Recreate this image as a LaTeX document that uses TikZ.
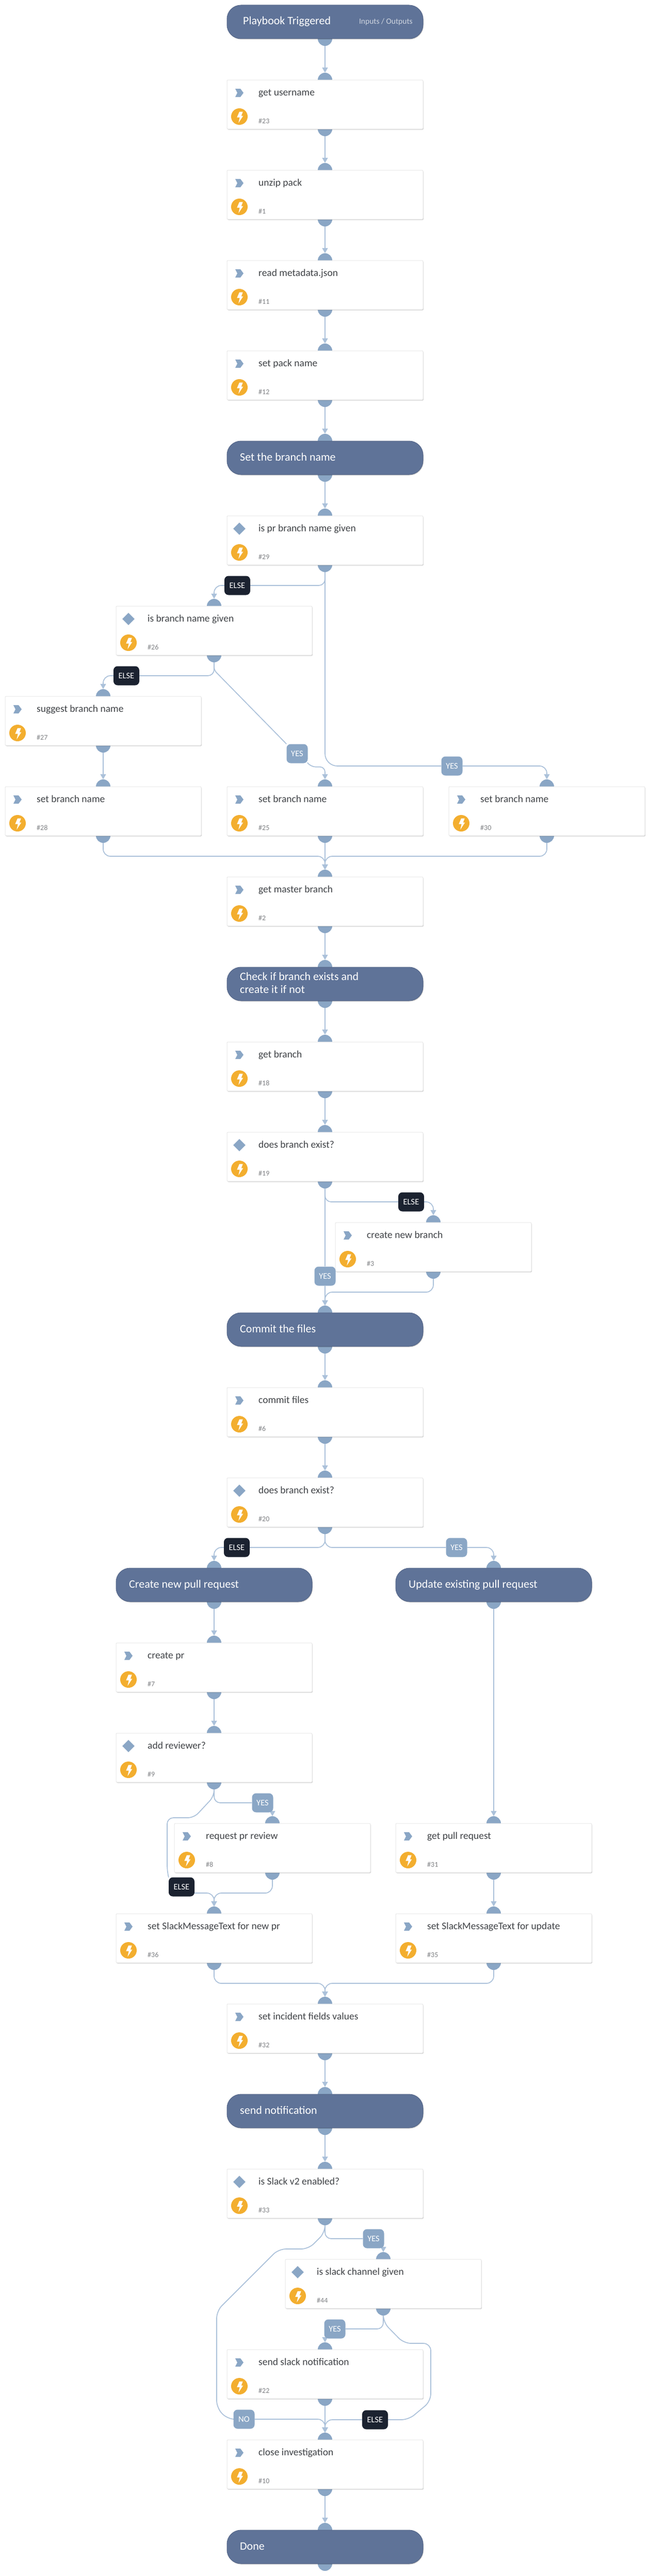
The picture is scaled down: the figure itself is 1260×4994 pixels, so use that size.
\documentclass[tikz,border=0pt]{standalone}
\usepackage{fontspec}
\setmainfont{Carlito}
\usetikzlibrary{arrows.meta,calc,shadows,shapes.geometric}

\definecolor{portblue}{HTML}{8AA6C5}
\definecolor{linkblue}{HTML}{ABC1DA}
\definecolor{headblue}{HTML}{5F7398}
\definecolor{elsedark}{HTML}{1B2230}
\definecolor{boltorange}{HTML}{F3AE2F}
\definecolor{tasktext}{HTML}{404347}
\definecolor{idtext}{HTML}{808285}

\pgfdeclarelayer{links}
\pgfsetlayers{links,main}

\tikzset{
    port/.style={circle,fill=portblue,minimum size=28pt,inner sep=0pt},
    taskbox/.style={rectangle,rounded corners=2pt,fill=white,draw=black!9,line width=1pt,
        minimum width=380pt,minimum height=95pt,inner sep=0pt,outer sep=0pt,
        drop shadow={shadow xshift=1pt,shadow yshift=-1.5pt,opacity=.18,fill=black}},
    headbox/.style={rectangle,rounded corners=27pt,fill=headblue,draw=headblue!90!black,line width=1pt,
        minimum width=380pt,minimum height=65pt,inner sep=0pt,outer sep=0pt,
        drop shadow={shadow xshift=1pt,shadow yshift=-1.5pt,opacity=.22,fill=black}},
    tasklabel/.style={anchor=base west,inner sep=0pt,text=tasktext,font=\fontsize{19.5}{22}\selectfont},
    idlabel/.style={anchor=base west,inner sep=0pt,text=idtext,font=\fontsize{14}{16}\selectfont},
    headlabel/.style={anchor=base west,inner sep=0pt,text=white,align=left,font=\fontsize{22}{25}\selectfont},
    boltdisc/.style={circle,fill=boltorange,minimum size=32pt,inner sep=0pt},
    conddiamond/.style={diamond,fill=portblue,minimum width=24pt,minimum height=24pt,inner sep=0pt},
    elsetag/.style={rectangle,rounded corners=8pt,fill=elsedark,text=white,minimum width=50pt,minimum height=37pt,
        inner sep=0pt,font=\fontsize{16.5}{18}\selectfont},
    yestag/.style={rectangle,rounded corners=8pt,fill=portblue,text=white,minimum width=41pt,minimum height=37pt,
        inner sep=0pt,font=\fontsize{16.5}{18}\selectfont},
    link/.style={draw=linkblue,line width=1.7pt},
    flow/.style={link,-{Triangle[length=10pt,width=11pt,fill=linkblue]}}
}

% isi kotak tugas: nama, cx, atas, teks, nomor
\newcommand{\taskbody}[5]{
    \node[port] (#1-in) at (#2,#3) {};
    \node[port] (#1-out) at (#2,#3+95) {};
    \node[taskbox] (#1) at ($(#1-in)!.5!(#1-out)$) {};
    \node[tasklabel] (#1-text) at ($(#1-in)+(-129,30)$) {#4};
    \node[idlabel] (#1-id) at ($(#1-in)+(-129,84)$) {\##5};
    \node[boltdisc] (#1-bolt) at ($(#1-in)+(-166,71)$) {};
    \fill[white,shift={(#1-bolt.center)}] (0,-9.3) -- (6.7,-9.3) -- (3.7,-1.3) -- (7.3,-1.3)
        -- (-1.7,12.3) -- (0.7,1.7) -- (-4.7,1.7) -- cycle;
}
\newcommand{\tasknode}[5]{
    \taskbody{#1}{#2}{#3}{#4}{#5}
    \coordinate (#1-mark) at ($(#1-in)+(-166,25)$);
    \fill[portblue,shift={(#1-mark)}] (-8,-8) -- (2,-8) -- (8,0) -- (2,8) -- (-8,8) -- (-4,0) -- cycle;
}
\newcommand{\condnode}[5]{
    \taskbody{#1}{#2}{#3}{#4}{#5}
    \node[conddiamond] (#1-mark) at ($(#1-in)+(-166,25)$) {};
}
% kotak judul: [baris dasar], nama, cx, atas, teks
\newcommand{\headnode}[5][38]{
    \node[port] (#2-in) at (#3,#4) {};
    \node[port] (#2-out) at (#3,#4+65) {};
    \node[headbox] (#2) at ($(#2-in)!.5!(#2-out)$) {};
    \node[headlabel] (#2-text) at ($(#2-in)+(-165,#1)$) {#5};
}

\begin{document}
\begin{tikzpicture}[x=1pt,y=-1pt]
    \useasboundingbox (0,0) rectangle (1260,4994);

    % pemicu
    \node[port] (trigger-out) at (630,75) {};
    \node[headbox] (trigger) at (630,42.5) {};
    \node[headlabel] (trigger-text) at (471,48) {Playbook Triggered};
    \node[anchor=base east,inner sep=0pt,text=white!70!headblue,font=\fontsize{15.5}{18}\selectfont] (trigger-io) at (800,47) {Inputs / Outputs};

    % kotak-kotak
    \tasknode{getuser}{630}{155}{get username}{23}
    \tasknode{unzip}{630}{330}{unzip pack}{1}
    \tasknode{readmeta}{630}{505}{read metadata.json}{11}
    \tasknode{setpack}{630}{680}{set pack name}{12}
    \headnode{branchhead}{630}{855}{Set the branch name}
    \condnode{ispr}{630}{1000}{is pr branch name given}{29}
    \condnode{isbranch}{415}{1175}{is branch name given}{26}
    \tasknode{suggest}{200}{1350}{suggest branch name}{27}
    \tasknode{setleft}{200}{1525}{set branch name}{28}
    \tasknode{setmid}{630}{1525}{set branch name}{25}
    \tasknode{setright}{1060}{1525}{set branch name}{30}
    \tasknode{getmaster}{630}{1700}{get master branch}{2}
    \headnode[50]{checkhead}{630}{1875}{Check if branch exists and\\create it if not}
    \tasknode{getbranch}{630}{2020}{get branch}{18}
    \condnode{existone}{630}{2195}{does branch exist?}{19}
    \tasknode{newbranch}{840}{2370}{create new branch}{3}
    \headnode{commithead}{630}{2545}{Commit the files}
    \tasknode{commit}{630}{2690}{commit files}{6}
    \condnode{existtwo}{630}{2865}{does branch exist?}{20}
    \headnode{newhead}{415}{3040}{Create new pull request}
    \headnode{updhead}{957}{3040}{Update existing pull request}
    \tasknode{createpr}{415}{3185}{create pr}{7}
    \condnode{addrev}{415}{3360}{add reviewer?}{9}
    \tasknode{request}{528}{3535}{request pr review}{8}
    \tasknode{getpull}{957}{3535}{get pull request}{31}
    \tasknode{msgnew}{415}{3710}{set SlackMessageText for new pr}{36}
    \tasknode{msgupdate}{957}{3710}{set SlackMessageText for update}{35}
    \tasknode{setfields}{630}{3885}{set incident fields values}{32}
    \headnode{notifyhead}{630}{4060}{send notification}
    \condnode{isslack}{630}{4205}{is Slack v2 enabled?}{33}
    \condnode{ischannel}{743}{4380}{is slack channel given}{44}
    \tasknode{sendslack}{630}{4555}{send slack notification}{22}
    \tasknode{closeinv}{630}{4730}{close investigation}{10}
    \headnode{done}{630}{4905}{Done}

    % label cabang
    \node[elsetag] (elseispr) at (460,1135) {ELSE};
    \node[yestag] (yesispr) at (876,1485) {YES};
    \node[elsetag] (elsebranch) at (245,1310) {ELSE};
    \node[yestag] (yesbranch) at (576,1461) {YES};
    \node[elsetag] (elseexist) at (797,2330) {ELSE};
    \node[yestag] (yesexist) at (630,2474) {YES};
    \node[elsetag] (elsetwo) at (459,3000) {ELSE};
    \node[yestag] (yestwo) at (885,3000) {YES};
    \node[yestag] (yesrev) at (509,3495) {YES};
    \node[elsetag] (elserev) at (352,3658) {ELSE};
    \node[yestag] (yesslack) at (724,4340) {YES};
    \node[yestag] (noslack) at (473,4690) {NO};
    \node[yestag] (yeschan) at (649,4515) {YES};
    \node[elsetag] (elsechan) at (727,4691) {ELSE};

    % titik temu
    \coordinate (mergeset) at (630,1660);
    \coordinate (mergeexist) at (630,2505);
    \coordinate (mergerev) at (415,3670);
    \coordinate (mergemsg) at (630,3845);

    \begin{pgfonlayer}{links}
    \fill[white] (0,0) rectangle (1260,4994);

    % garis lurus
    \draw[flow] (trigger-out.south) -- (getuser-in.north);
    \draw[flow] (getuser-out.south) -- (unzip-in.north);
    \draw[flow] (unzip-out.south) -- (readmeta-in.north);
    \draw[flow] (readmeta-out.south) -- (setpack-in.north);
    \draw[flow] (setpack-out.south) -- (branchhead-in.north);
    \draw[flow] (branchhead-out.south) -- (ispr-in.north);
    \draw[flow] (suggest-out.south) -- (setleft-in.north);
    \draw[flow] (getmaster-out.south) -- (checkhead-in.north);
    \draw[flow] (checkhead-out.south) -- (getbranch-in.north);
    \draw[flow] (getbranch-out.south) -- (existone-in.north);
    \draw[flow] (commithead-out.south) -- (commit-in.north);
    \draw[flow] (commit-out.south) -- (existtwo-in.north);
    \draw[flow] (newhead-out.south) -- (createpr-in.north);
    \draw[flow] (createpr-out.south) -- (addrev-in.north);
    \draw[flow] (updhead-out.south) -- (getpull-in.north);
    \draw[flow] (getpull-out.south) -- (msgupdate-in.north);
    \draw[flow] (setfields-out.south) -- (notifyhead-in.north);
    \draw[flow] (notifyhead-out.south) -- (isslack-in.north);
    \draw[flow] (sendslack-out.south) -- (closeinv-in.north);
    \draw[flow] (closeinv-out.south) -- (done-in.north);

    % cabang pr
    \draw[link,rounded corners=12pt] (ispr-out.south) |- (elseispr.east);
    \draw[flow,rounded corners=14pt] (elseispr.west) -| (isbranch-in.north);
    \draw[link,rounded corners=24pt] (ispr-out.south) |- (yesispr.west);
    \draw[flow,rounded corners=14pt] (yesispr.east) -| (setright-in.north);
    \draw[link,rounded corners=12pt] (isbranch-out.south) |- (elsebranch.east);
    \draw[flow,rounded corners=14pt] (elsebranch.west) -| (suggest-in.north);
    \draw[link,rounded corners=6pt] (isbranch-out.south) -- ++(0,15) -- (yesbranch.north west);
    \draw[flow,rounded corners=10pt] (yesbranch.south east) -- ++(5,7) -| (setmid-in.north);
    \draw[flow,rounded corners=14pt] (setleft-out.south) |- (mergeset) -- (getmaster-in.north);
    \draw[flow] (setmid-out.south) -- (getmaster-in.north);
    \draw[flow,rounded corners=14pt] (setright-out.south) |- (mergeset) -- (getmaster-in.north);

    % cabang ada tidaknya branch
    \draw[link,rounded corners=12pt] (existone-out.south) |- (elseexist.west);
    \draw[flow,rounded corners=14pt] (elseexist.east) -| (newbranch-in.north);
    \draw[link] (existone-out.south) -- (yesexist.north);
    \draw[flow] (yesexist.south) -- (commithead-in.north);
    \draw[flow,rounded corners=14pt] (newbranch-out.south) |- (mergeexist) -- (commithead-in.north);

    % cabang pull request
    \draw[link,rounded corners=14pt] (existtwo-out.south) |- (elsetwo.east);
    \draw[flow,rounded corners=14pt] (elsetwo.west) -| (newhead-in.north);
    \draw[link,rounded corners=14pt] (existtwo-out.south) |- (yestwo.west);
    \draw[flow,rounded corners=14pt] (yestwo.east) -| (updhead-in.north);
    \draw[link,rounded corners=12pt] (addrev-out.south) |- (yesrev.west);
    \draw[flow] (yesrev.south -| request-in.north) -- (request-in.north);
    \draw[link,rounded corners=12pt] (addrev-out.south) -- ++(0,13) -- (376,3524) -- (324,3524) -- (324,3628) -- (elserev.north west);
    \draw[flow,rounded corners=14pt] (elserev.east |- mergerev) -- (mergerev) -- (msgnew-in.north);
    \draw[flow,rounded corners=14pt] (request-out.south) |- (mergerev) -- (msgnew-in.north);
    \draw[flow,rounded corners=14pt] (msgnew-out.south) |- (mergemsg) -- (setfields-in.north);
    \draw[flow,rounded corners=14pt] (msgupdate-out.south) |- (mergemsg) -- (setfields-in.north);

    % cabang slack
    \draw[link,rounded corners=12pt] (isslack-out.south) |- (yesslack.west);
    \draw[flow] (yesslack.south -| ischannel-in.north) -- (ischannel-in.north);
    \draw[link,rounded corners=14pt] (isslack-out.south) -- ++(0,14) -- (598,4360) -- (540,4360) -- (420,4480) -- (420,4668) -- (441,4690) -- (noslack.west);
    \draw[flow,rounded corners=14pt] (noslack.east) -| (closeinv-in.north);
    \draw[link,rounded corners=12pt] (ischannel-out.south) |- (yeschan.east);
    \draw[flow] (yeschan.south -| sendslack-in.north) -- (sendslack-in.north);
    \draw[link,rounded corners=14pt] (ischannel-out.south) -- ++(0,13) -- (783,4543) -- (835,4543) -- (835,4655) -- (792,4691) -- (elsechan.east);
    \draw[flow,rounded corners=14pt] (elsechan.west) -| (closeinv-in.north);
    \end{pgfonlayer}
\end{tikzpicture}
\end{document}
